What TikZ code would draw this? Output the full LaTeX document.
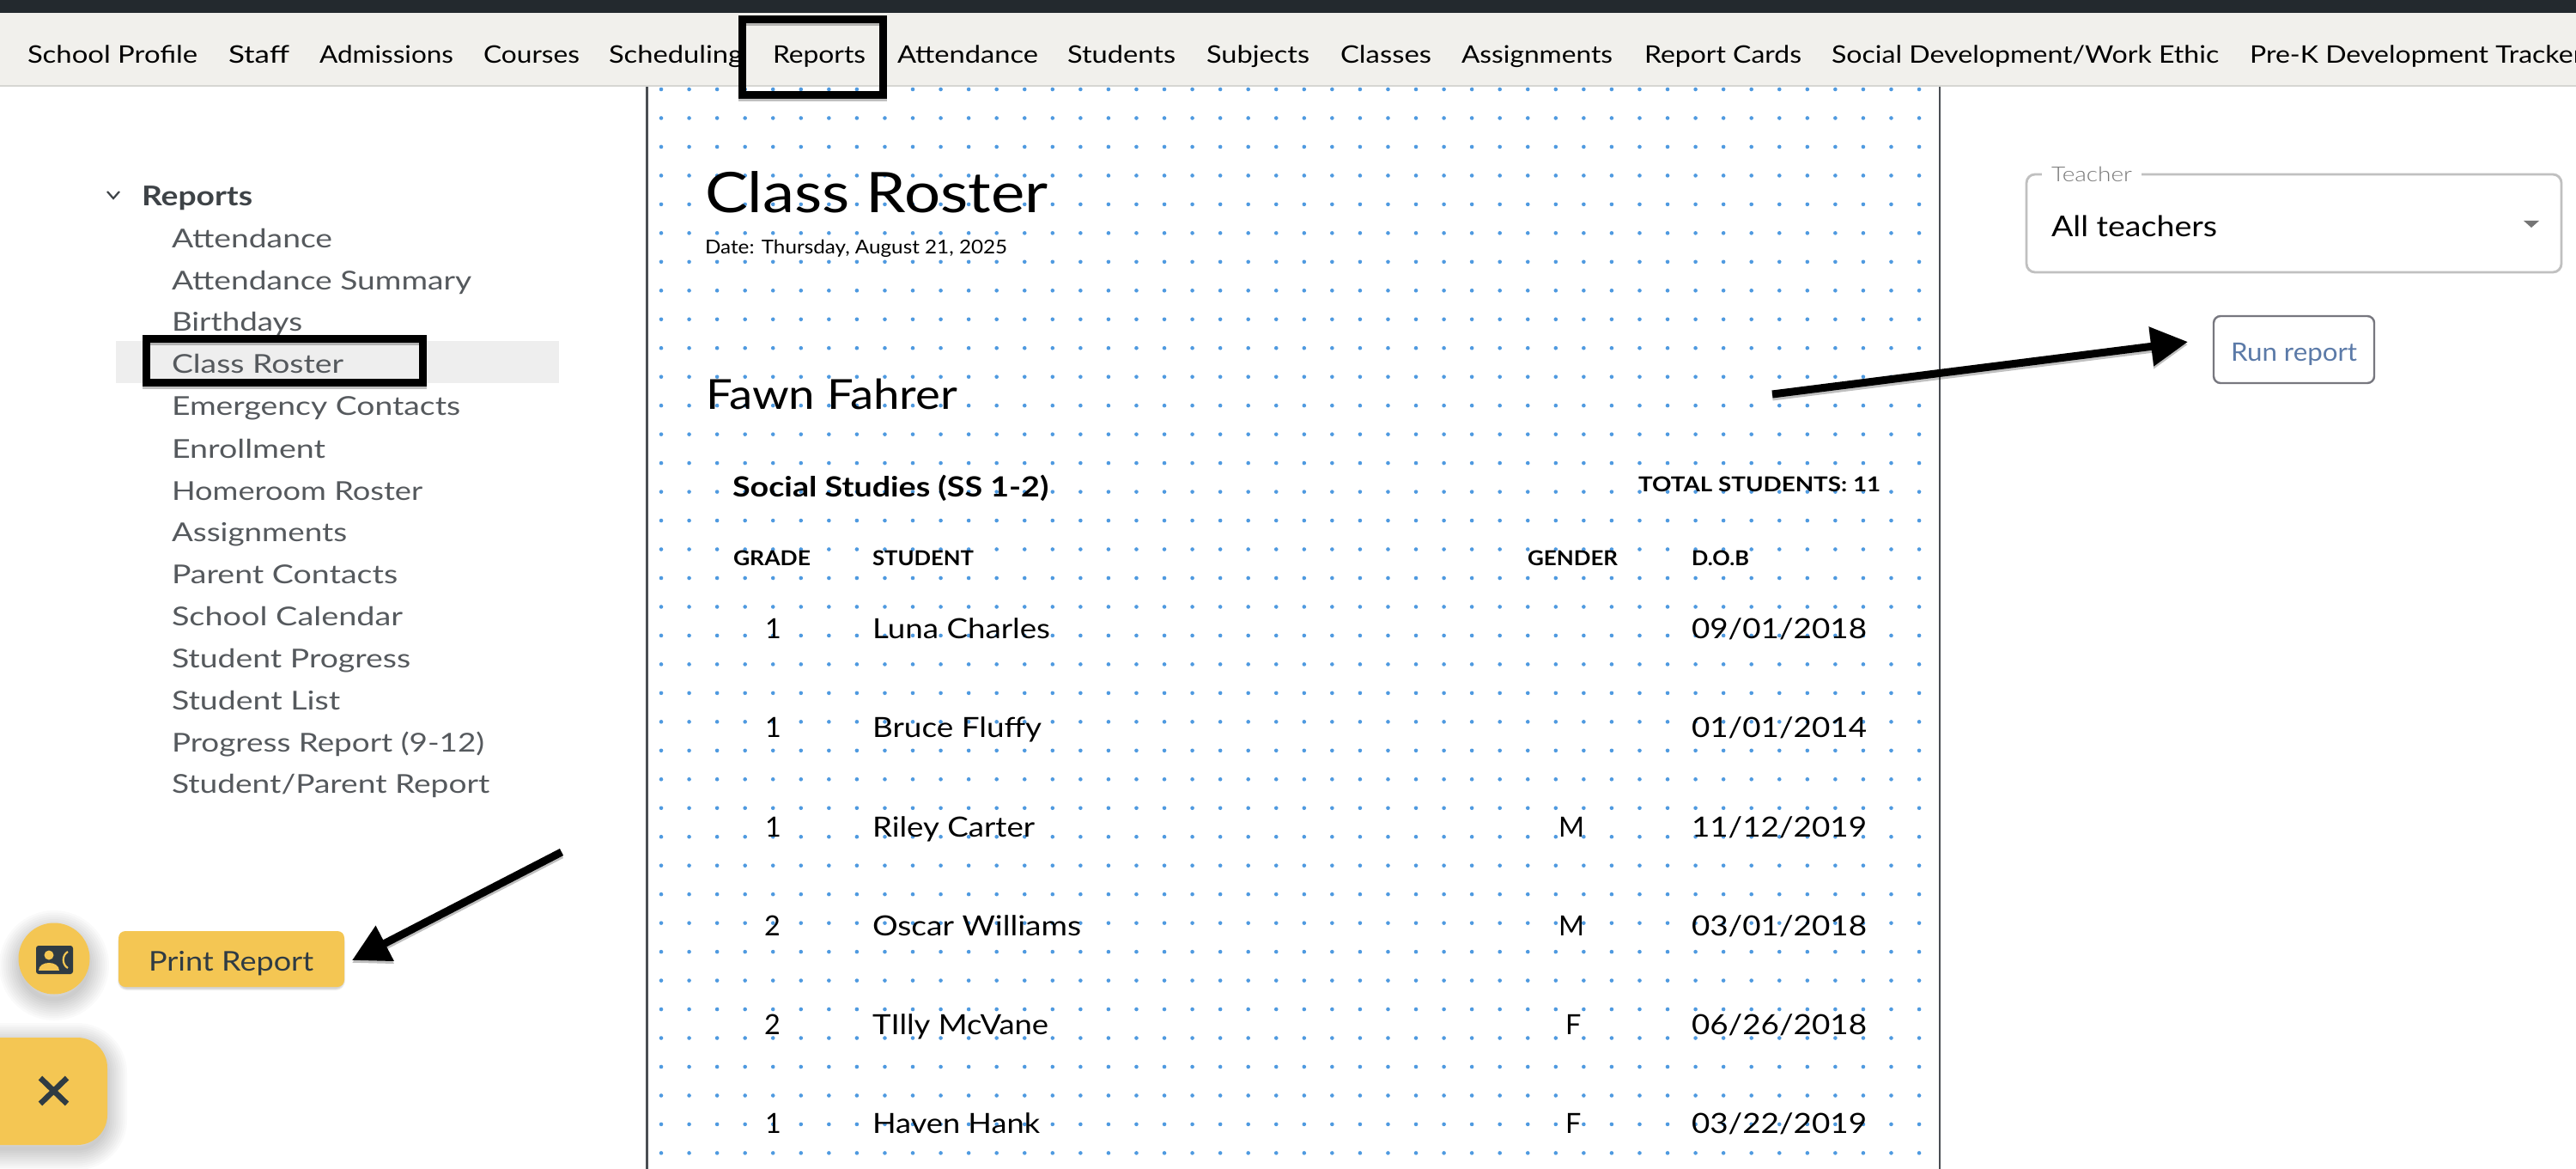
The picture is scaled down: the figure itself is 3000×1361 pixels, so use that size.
\documentclass[tikz,border=0pt]{standalone}
\usepackage{fontspec}
\usepackage{graphicx}
\usetikzlibrary{arrows.meta}
\setmainfont{Lato}
\newfontfamily\lt{Lato Light}
\definecolor{topbar}{HTML}{23292E}
\definecolor{navbg}{HTML}{F1F0EC}
\definecolor{navline}{HTML}{D6D6D2}
\definecolor{sidetext}{HTML}{55595D}
\definecolor{sidebold}{HTML}{3E4347}
\definecolor{pageline}{HTML}{4A4E53}
\definecolor{dotblue}{HTML}{4F9AE0}
\definecolor{amber}{HTML}{F4C653}
\definecolor{ink}{HTML}{2F3B43}
\definecolor{hilite}{HTML}{EEEEEE}
\definecolor{outline}{HTML}{C0C0C0}
\definecolor{btnline}{HTML}{77777F}
\definecolor{btntext}{HTML}{5B7AA8}
\newsavebox\fitbox
\newcommand\fit[2]{\sbox\fitbox{#2}\pgfmathsetmacro\fitr{#1*0.28453/\the\wd\fitbox}\scalebox{\fitr}[1]{\usebox\fitbox}}
\tikzset{
  txt/.style={anchor=base west,inner sep=0pt,outer sep=0pt},
  navlabel/.style={txt,text=black,font=\fontsize{8}{10}\selectfont},
  sidelabel/.style={txt,text=sidetext,font=\fontsize{8.6}{10}\selectfont},
  sidehead/.style={txt,text=sidebold,font=\bfseries\fontsize{9}{10}\selectfont},
  tablebody/.style={txt,text=black,font=\fontsize{9.2}{10}\selectfont},
  tablehead/.style={txt,text=black,font=\bfseries\fontsize{6.8}{8}\selectfont},
  callout/.style={draw=black,line width=0.09cm},
  pointer/.style={draw=black,line width=0.09cm,-{Triangle[length=0.43cm,width=0.44cm]},fill=black},
  softshadow/.style={draw=black,opacity=0.018,fill=none},
}
\begin{document}
\begin{tikzpicture}[x=0.01cm,y=-0.01cm]
\useasboundingbox (0,0) rectangle (3000,1361);
\clip (0,0) rectangle (3000,1361);
\fill[white] (0,0) rectangle (3000,1361);

% dotted page
\foreach \i in {0,...,45}{\foreach \j in {0,...,37}{
  \fill[dotblue] ({770+32.556*\i},{104+33.47*\j}) circle (2.3);
}}
\draw[pageline,line width=0.03cm] (753,100) -- (753,1361);
\draw[pageline,line width=0.025cm] (2259,100) -- (2259,1361);

% top bars
\fill[topbar] (0,0) rectangle (3000,15);
\fill[navbg] (0,15) rectangle (3000,100);
\draw[navline,line width=0.025cm] (0,100) -- (3000,100);

\node[navlabel] (navprofile) at (32,74) {\fit{198}{School Profile}};
\node[navlabel] (navstaff) at (266,74) {\fit{71}{Staff}};
\node[navlabel] (navadmissions) at (372,74) {\fit{156}{Admissions}};
\node[navlabel] (navcourses) at (563,74) {\fit{112}{Courses}};
\node[navlabel] (navscheduling) at (709,74) {\fit{156}{Scheduling}};
\node[navlabel] (navreports) at (900,74) {\fit{108}{Reports}};
\node[navlabel] (navattendance) at (1045,74) {\fit{164}{Attendance}};
\node[navlabel] (navstudents) at (1243,74) {\fit{126}{Students}};
\node[navlabel] (navsubjects) at (1405,74) {\fit{120}{Subjects}};
\node[navlabel] (navclasses) at (1561,74) {\fit{106}{Classes}};
\node[navlabel] (navassign) at (1702,74) {\fit{176}{Assignments}};
\node[navlabel] (navcards) at (1915,74) {\fit{183}{Report Cards}};
\node[navlabel] (navsocial) at (2133,74) {\fit{451}{Social Development/Work Ethic}};
\node[navlabel] (navprek) at (2620,74) {\fit{388}{Pre-K Development Tracker}};

% sidebar
\draw[sidebold,line width=0.022cm] (125,223) -- (132,231) -- (139,223);
\node[sidehead] (sidereports) at (165,240) {\fit{129}{Reports}};
\fill[hilite] (135,397) rectangle (651,446);
\node[sidelabel] (s1) at (200,289) {\fit{187}{Attendance}};
\node[sidelabel] (s2) at (200,338) {\fit{349}{Attendance Summary}};
\node[sidelabel] (s3) at (200,386) {\fit{152}{Birthdays}};
\node[sidelabel] (s4) at (200,435) {\fit{200}{Class Roster}};
\node[sidelabel] (s5) at (200,484) {\fit{336}{Emergency Contacts}};
\node[sidelabel] (s6) at (200,533) {\fit{179}{Enrollment}};
\node[sidelabel] (s7) at (200,582) {\fit{292}{Homeroom Roster}};
\node[sidelabel] (s8) at (200,630) {\fit{204}{Assignments}};
\node[sidelabel] (s9) at (200,679) {\fit{263}{Parent Contacts}};
\node[sidelabel] (s10) at (200,728) {\fit{269}{School Calendar}};
\node[sidelabel] (s11) at (200,777) {\fit{278}{Student Progress}};
\node[sidelabel] (s12) at (200,826) {\fit{196}{Student List}};
\node[sidelabel] (s13) at (200,875) {\fit{364}{Progress Report (9-12)}};
\node[sidelabel] (s14) at (200,923) {\fit{370}{Student/Parent Report}};

% report page text
\node[txt,text=black,font=\fontsize{18.5}{22}\selectfont] (title) at (821,248) {\fit{399}{Class Roster}};
\node[txt,text=black,font=\fontsize{6.3}{8}\selectfont] (datetext) at (821,296) {\fit{352}{Date: Thursday, August 21, 2025}};
\node[txt,text=black,font=\fontsize{13.7}{16}\selectfont] (fawn) at (822,477) {\fit{293}{Fawn Fahrer}};
\node[txt,text=black,font=\bfseries\fontsize{9.2}{11}\selectfont] (course) at (853,578) {\fit{368}{Social Studies (SS 1-2)}};
\node[tablehead] (total) at (1908,572) {\fit{282}{TOTAL STUDENTS: 11}};
\node[tablehead] (hgrade) at (854,658) {\fit{90}{GRADE}};
\node[tablehead] (hstudent) at (1016,658) {\fit{118}{STUDENT}};
\node[tablehead] (hgender) at (1779,658) {\fit{105}{GENDER}};
\node[tablehead] (hdob) at (1970,658) {\fit{67}{D.O.B}};

\node[tablebody] (g1) at (891,743) {1};
\node[tablebody] (n1) at (1016,743) {\fit{207}{Luna Charles}};
\node[tablebody] (d1) at (1970,743) {\fit{204}{09/01/2018}};
\node[tablebody] (g2) at (891,858) {1};
\node[tablebody] (n2) at (1016,858) {\fit{197}{Bruce Fluffy}};
\node[tablebody] (d2) at (1970,858) {\fit{204}{01/01/2014}};
\node[tablebody] (g3) at (891,974) {1};
\node[tablebody] (n3) at (1016,974) {\fit{189}{Riley Carter}};
\node[tablebody] (m3) at (1815,974) {M};
\node[tablebody] (d3) at (1970,974) {\fit{204}{11/12/2019}};
\node[tablebody] (g4) at (890,1089) {2};
\node[tablebody] (n4) at (1016,1089) {\fit{243}{Oscar Williams}};
\node[tablebody] (m4) at (1815,1089) {M};
\node[tablebody] (d4) at (1970,1089) {\fit{204}{03/01/2018}};
\node[tablebody] (g5) at (890,1204) {2};
\node[tablebody] (n5) at (1016,1204) {\fit{205}{TIlly McVane}};
\node[tablebody] (m5) at (1823,1204) {F};
\node[tablebody] (d5) at (1970,1204) {\fit{204}{06/26/2018}};
\node[tablebody] (g6) at (891,1319) {1};
\node[tablebody] (n6) at (1016,1319) {\fit{195}{Haven Hank}};
\node[tablebody] (m6) at (1823,1319) {F};
\node[tablebody] (d6) at (1970,1319) {\fit{204}{03/22/2019}};

% teacher selector
\draw[outline,line width=0.028cm,rounded corners=0.1cm] (2360,203) rectangle (2983,317);
\fill[white] (2378,197) rectangle (2494,210);
\node[txt,text=black!53,font=\lt\fontsize{6.8}{8}\selectfont] (teacherlabel) at (2389,212) {\fit{94}{Teacher}};
\node[txt,text=black,font=\fontsize{9.5}{11}\selectfont] (allteachers) at (2389,276) {\fit{193}{All teachers}};
\fill[black!54] (2939,257) -- (2957,257) -- (2948,265) -- cycle;

% run report button
\draw[btnline,line width=0.024cm,rounded corners=0.08cm] (2578,368) rectangle (2765,446);
\node[txt,text=btntext,font=\fontsize{8.4}{10}\selectfont] (runreport) at (2598,420) {\fit{147}{Run report}};

% floating buttons
\foreach \w in {5,10,...,50}{
  \draw[softshadow,line width=\w*0.01cm] (63,1124) circle (39);
  \draw[softshadow,line width=\w*0.01cm,rounded corners=0.33cm] (-60,1216) rectangle (123,1337);
}
\foreach \w in {2,4,6}{
  \draw[softshadow,opacity=0.06,line width=\w*0.01cm,rounded corners=0.08cm] (140,1089) rectangle (399,1150);
}
\fill[amber] (63,1116) circle (41.5);
\fill[amber,rounded corners=0.08cm] (138,1084) rectangle (401,1149);
\fill[amber,rounded corners=0.35cm] (-60,1208) rectangle (125,1333);
\node[txt,text=ink,font=\fontsize{9}{11}\selectfont] (printreport) at (173,1130) {\fit{192}{Print Report}};

% contact icon
\fill[ink,rounded corners=0.03cm] (42,1101) rectangle (85,1134);
\fill[amber] (57,1112) circle (5.5);
\fill[amber] (45,1130) .. controls (45,1118) and (69,1118) .. (69,1130) -- cycle;
\draw[amber,line width=0.022cm] (79,1108) .. controls (72,1112) and (72,1123) .. (79,1127);
% close icon
\draw[ink,line width=0.065cm] (47,1255) -- (78,1285);
\draw[ink,line width=0.065cm] (78,1255) -- (47,1285);

% callout boxes
\draw[black,opacity=0.25,line width=0.09cm,transform canvas={yshift=-0.03cm}] (864.5,22.5) rectangle (1028.5,110.5);
\draw[black,opacity=0.25,line width=0.09cm,transform canvas={yshift=-0.03cm}] (170.5,394.5) rectangle (492.5,445.5);
\draw[callout] (864.5,22.5) rectangle (1028.5,110.5);
\draw[callout] (170.5,394.5) rectangle (492.5,445.5);

% arrows
\coordinate (printtail) at (654,992);
\coordinate (printtip) at (410,1118);
\coordinate (runtail) at (2064,459);
\coordinate (runtip) at (2548,398);
\draw[pointer,opacity=0.25,transform canvas={yshift=-0.03cm}] (printtail) -- (printtip);
\draw[pointer,opacity=0.25,transform canvas={yshift=-0.03cm}] (runtail) -- (runtip);
\draw[pointer] (printtail) -- (printtip);
\draw[pointer] (runtail) -- (runtip);
\end{tikzpicture}
\end{document}
